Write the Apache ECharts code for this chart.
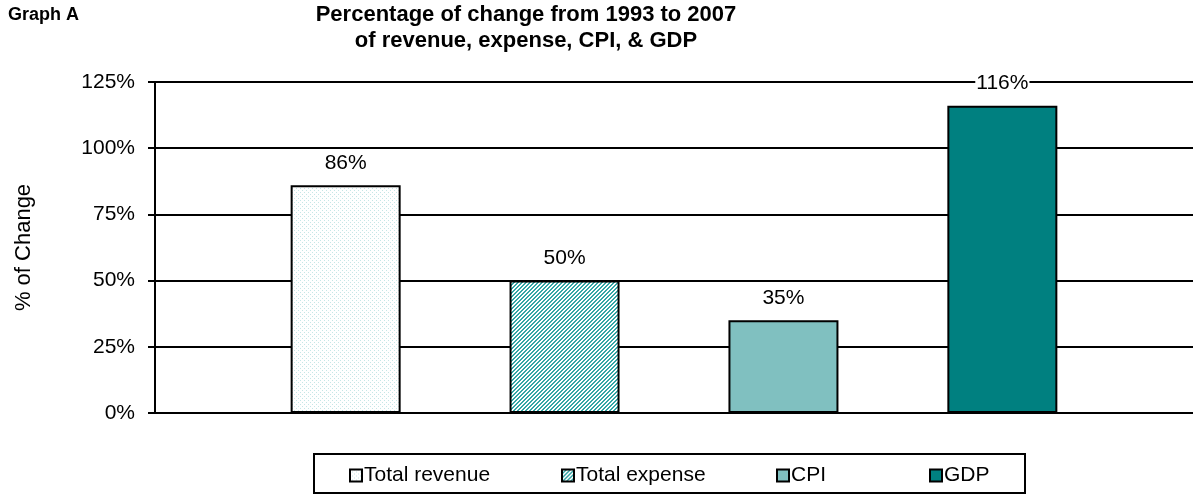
<!DOCTYPE html>
<html>
<head>
<meta charset="utf-8">
<script src="https://cdn.jsdelivr.net/npm/echarts@6/dist/echarts.min.js"></script>
<style>
  html, body { margin: 0; padding: 0; background: #fff; }
  #chart { width: 1193px; height: 496px; }
</style>
</head>
<body>
<div id="chart"></div>
<script>
// Percentage change from 1993 to 2007
const seriesNames = ['Total revenue', 'Total expense', 'CPI', 'GDP'];
const changeValues = [86, 50, 35, 116];
const yTicks = [0, 25, 50, 75, 100, 125];

const FONT = '"Liberation Sans", Arial, sans-serif';

// Small tiled fills for the patterned bars
function dotPattern() {
  const c = document.createElement('canvas');
  c.width = 4; c.height = 4;
  const g = c.getContext('2d');
  g.fillStyle = '#ffffff';
  g.fillRect(0, 0, 4, 4);
  g.fillStyle = '#c6e6e6';
  g.fillRect(0, 0, 1, 1);
  g.fillRect(2, 2, 1, 1);
  return c;
}
function hatchPattern() {
  const c = document.createElement('canvas');
  c.width = 4; c.height = 4;
  const g = c.getContext('2d');
  g.fillStyle = '#ffffff';
  g.fillRect(0, 0, 4, 4);
  g.fillStyle = '#33a6a6';
  for (let i = 0; i < 4; i++) {
    g.fillRect(i, 3 - i, 1, 1);
    g.fillRect((i + 1) % 4, 3 - i, 1, 1);
  }
  return c;
}

const fills = [
  { image: dotPattern(), repeat: 'repeat' },
  { image: hatchPattern(), repeat: 'repeat' },
  '#80c0c0',
  '#008080'
];

// left edge of each legend entry
const legendLeft = [344, 556, 771, 924];

const chart = echarts.init(document.getElementById('chart'));
chart.setOption({
  animation: false,
  backgroundColor: '#ffffff',
  title: [
    {
      text: 'Graph A',
      left: 8, top: 6, padding: 0,
      textStyle: { fontFamily: FONT, fontSize: 18, fontWeight: 'bold', color: '#000' }
    },
    {
      text: 'Percentage of change from 1993 to 2007\nof revenue, expense, CPI, & GDP',
      left: 526, top: 2, padding: 0,
      textAlign: 'center',
      textStyle: { fontFamily: FONT, fontSize: 22, fontWeight: 'bold', color: '#000', lineHeight: 26, align: 'center' }
    }
  ],
  grid: { left: 155, right: 0, top: 82, bottom: 83, containLabel: false },
  xAxis: {
    type: 'category',
    data: [''],
    axisLine: { show: true, lineStyle: { color: '#000', width: 2 } },
    axisTick: { show: false },
    axisLabel: { show: false },
    splitLine: { show: false }
  },
  yAxis: {
    type: 'value',
    min: yTicks[0],
    max: yTicks[yTicks.length - 1],
    interval: 25,
    name: '% of Change',
    nameLocation: 'middle',
    nameRotate: 90,
    nameGap: 120,
    nameTextStyle: { fontFamily: FONT, fontSize: 22, color: '#000' },
    axisLine: { show: true, lineStyle: { color: '#000', width: 2 } },
    axisTick: { show: true, inside: false, length: 7, lineStyle: { color: '#000', width: 2 } },
    axisLabel: {
      formatter: '{value}%',
      margin: 20,
      fontFamily: FONT, fontSize: 21, color: '#000'
    },
    splitLine: { show: true, lineStyle: { color: '#000', width: 2 } }
  },
  legend: seriesNames.map((n, i) => ({
    data: [n],
    left: legendLeft[i],
    top: 460,
    icon: 'rect',
    itemWidth: 12,
    itemHeight: 12,
    itemGap: 4,
    selectedMode: false,
    itemStyle: { borderColor: '#000', borderWidth: 2 },
    textStyle: { fontFamily: FONT, fontSize: 21, color: '#000', padding: [0, 0, 0, -3] }
  })),
  graphic: [
    {
      type: 'rect',
      shape: { x: 314, y: 454, width: 711, height: 39 },
      style: { fill: 'none', stroke: '#000', lineWidth: 2 },
      z: 0
    }
  ],
  series: seriesNames.map((n, i) => ({
    name: n,
    type: 'bar',
    data: [changeValues[i]],
    barWidth: 110,
    barGap: '99%',
    itemStyle: { color: fills[i], borderColor: '#000', borderWidth: 2 },
    label: {
      show: true,
      position: 'top',
      distance: 12,
      formatter: '{c}%',
      fontFamily: FONT, fontSize: 21, color: '#000',
      backgroundColor: '#fff',
      padding: [0, 1, 0, 1]
    },
    z: 3
  }))
});
</script>
</body>
</html>
